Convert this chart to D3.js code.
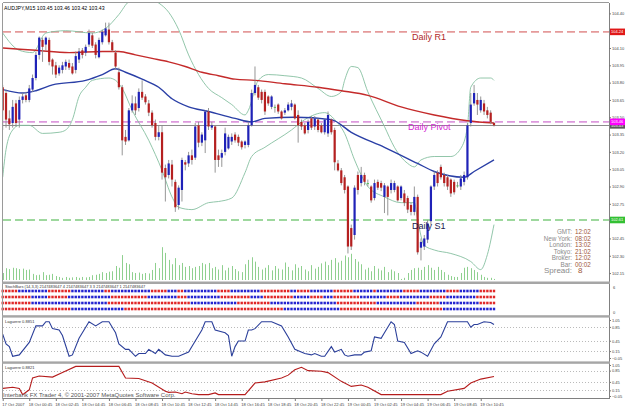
<!DOCTYPE html>
<html><head><meta charset="utf-8">
<script src="https://cdn.jsdelivr.net/npm/d3@7"></script>
<style>
body{margin:0;background:#fff}
svg{display:block}
text{font-family:"Liberation Sans",Arial,sans-serif}
</style>
</head><body>
<svg id="c" width="625" height="412"></svg>
<script>
// ---------- DATA ----------
const symbolHeader = "AUDJPY,M15  103.45 103.46 103.42 103.43";
const opens = [103.76,103.71,103.49,103.45,103.62,103.48,103.65,103.69,103.65,103.74,
103.84,104.04,104.17,104.13,104.17,104.00,103.95,103.88,103.91,103.94,
103.97,103.94,103.91,104.00,104.08,104.06,104.13,104.21,104.13,104.02,
104.15,104.21,104.26,104.15,104.06,103.89,103.76,103.33,103.30,103.56,
103.62,103.58,103.72,103.68,103.62,103.54,103.45,103.33,103.37,103.06,
103.00,103.09,102.94,102.74,102.87,103.11,103.10,103.17,103.15,103.43,
103.28,103.30,103.55,103.41,103.42,103.17,103.15,103.20,103.23,103.29,
103.35,103.33,103.29,103.26,103.26,103.43,103.71,103.76,103.72,103.72,
103.68,103.59,103.59,103.61,103.55,103.54,103.56,103.59,103.61,103.52,
103.46,103.43,103.39,103.49,103.42,103.48,103.43,103.37,103.36,103.48,
103.39,103.10,103.04,102.98,102.90,102.54,102.48,103.00,102.93,103.00,
102.93,102.90,102.80,102.94,102.93,102.81,102.90,102.87,102.87,102.90,
102.80,102.84,102.80,102.74,102.68,102.81,102.37,102.38,102.44,102.60,
102.90,103.02,103.07,103.00,102.98,102.96,102.94,102.91,102.90,102.94,
102.98,103.45,103.62,103.65,103.56,103.62,103.56,103.54,103.45];
const highs = [103.78,103.74,103.56,103.65,103.65,103.68,103.71,103.72,103.78,103.87,
104.07,104.20,104.19,104.20,104.19,104.01,103.98,103.95,103.98,104.00,
104.00,103.97,104.07,104.10,104.10,104.13,104.26,104.23,104.15,104.19,
104.26,104.32,104.32,104.17,104.08,103.93,103.78,103.39,103.58,103.69,
103.68,103.75,103.82,103.70,103.65,103.56,103.48,103.43,103.43,103.09,
103.13,103.13,102.96,102.91,103.15,103.13,103.20,103.22,103.45,103.46,
103.37,103.56,103.58,103.46,103.43,103.22,103.22,103.41,103.35,103.36,
103.37,103.35,103.30,103.30,103.46,103.74,103.94,103.78,103.74,103.74,
103.69,103.69,103.61,103.62,103.56,103.58,103.63,103.65,103.62,103.56,
103.48,103.45,103.48,103.51,103.51,103.49,103.45,103.49,103.55,103.49,
103.41,103.13,103.06,103.00,102.91,102.57,102.91,103.03,103.07,103.02,
102.96,102.91,102.96,102.96,102.95,102.93,102.91,102.96,102.95,102.91,
102.91,102.87,102.82,102.76,102.90,102.83,102.45,102.48,102.61,102.91,
103.03,103.04,103.09,103.02,103.00,102.97,102.96,102.94,103.00,103.03,
103.45,103.71,103.78,103.71,103.68,103.65,103.59,103.56,103.46];
const lows = [103.39,103.41,103.39,103.41,103.42,103.41,103.62,103.63,103.63,103.72,
103.82,104.00,103.98,104.08,103.95,103.87,103.84,103.86,103.88,103.91,
103.91,103.87,103.88,103.97,104.01,104.03,104.11,104.10,104.01,104.01,
104.13,104.20,104.13,104.07,103.91,103.74,103.17,103.26,103.29,103.54,
103.52,103.55,103.65,103.61,103.51,103.41,103.30,103.30,102.96,102.77,
102.97,102.90,102.68,102.70,102.77,103.04,103.07,103.09,103.13,103.24,
103.25,103.19,103.39,103.39,103.02,103.07,103.07,103.17,103.22,103.26,
103.28,103.25,103.22,103.23,103.24,103.42,103.69,103.65,103.62,103.52,
103.60,103.57,103.54,103.53,103.48,103.52,103.55,103.56,103.48,103.28,
103.39,103.35,103.36,103.39,103.39,103.37,103.36,103.35,103.33,103.35,
103.04,103.03,102.91,102.84,102.32,102.35,102.44,102.83,102.90,102.91,
102.90,102.76,102.78,102.87,102.86,102.67,102.65,102.84,102.85,102.77,
102.78,102.73,102.67,102.65,102.65,102.31,102.26,102.35,102.41,102.57,
102.87,102.90,102.96,102.90,102.87,102.81,102.83,102.89,102.87,102.91,
102.96,103.42,103.60,103.52,103.54,103.52,103.49,103.44,103.42];
const closes = [103.56,103.48,103.44,103.59,103.45,103.65,103.68,103.65,103.75,103.84,
104.04,104.19,104.11,104.19,103.98,103.94,103.87,103.93,103.95,103.98,
103.93,103.88,104.03,104.07,104.04,104.11,104.23,104.12,104.04,104.17,
104.24,104.27,104.15,104.08,103.94,103.76,103.30,103.29,103.56,103.62,
103.56,103.72,103.67,103.63,103.54,103.43,103.33,103.37,103.02,102.98,
103.10,102.96,102.72,102.89,103.13,103.09,103.17,103.13,103.42,103.28,
103.35,103.55,103.42,103.43,103.13,103.13,103.19,103.36,103.33,103.33,
103.30,103.28,103.24,103.29,103.43,103.71,103.78,103.67,103.65,103.55,
103.62,103.68,103.59,103.55,103.49,103.56,103.61,103.62,103.49,103.43,
103.42,103.36,103.46,103.41,103.49,103.39,103.37,103.48,103.52,103.37,
103.11,103.04,102.93,102.87,102.38,102.38,102.89,102.87,103.00,102.94,
102.93,102.78,102.93,102.89,102.89,102.91,102.81,102.93,102.93,102.78,
102.90,102.76,102.70,102.68,102.81,102.33,102.42,102.45,102.58,102.90,
103.00,102.93,102.98,102.93,102.90,102.84,102.85,102.91,102.97,103.00,
103.43,103.61,103.71,103.61,103.65,103.55,103.52,103.46,103.43];
const volumes = [80,135,125,140,135,125,130,115,120,70,
55,60,90,55,60,70,45,35,25,35,
25,30,35,25,35,30,35,55,60,70,
90,80,95,100,160,140,285,195,180,90,
80,85,70,80,75,115,195,135,375,310,
230,180,250,170,195,150,160,135,150,160,
195,180,195,135,150,120,170,110,140,160,
125,100,90,180,230,260,210,150,120,140,
170,110,160,130,120,200,150,110,180,140,
160,120,100,170,130,150,190,210,170,230,
250,200,220,280,260,300,240,210,180,120,
140,100,160,130,110,150,90,120,100,80,
12,25,80,115,135,140,115,150,170,140,
115,150,115,90,60,45,35,35,80,140,
150,135,115,90,60,35,25,25,12];
// moving averages and bands, read at sampled bars: [bar, price]
const maSlow = [[0,104.10],[10,104.08],[20,104.06],[30,104.07],[35,104.07],[40,104.04],[45,104.01],[50,103.98],[55,103.94],[60,103.89],[65,103.86],[70,103.83],[76,103.82],[85,103.79],[95,103.76],[102,103.73],[110,103.69],[120,103.59],[130,103.52],[140,103.47],[148,103.45]];
const maFast = [[0,103.74],[6,103.71],[10,103.73],[15,103.78],[25,103.82],[30,103.87],[34,103.92],[37,103.89],[42,103.83],[47,103.76],[51,103.66],[56,103.59],[62,103.55],[70,103.49],[75,103.46],[79,103.49],[88,103.50],[99,103.48],[105,103.37],[115,103.24],[125,103.10],[130,103.03],[139,102.98],[142,103.03],[148,103.13]];
const bandUpper = [[0,104.23],[5,104.08],[9,104.06],[13,104.23],[19,104.25],[27,104.23],[31,104.27],[35,104.39],[38,104.50],[43,104.54],[47,104.49],[50,104.41],[53,104.26],[56,104.04],[59,103.87],[62,103.75],[66,103.67],[69,103.61],[73,103.52],[74,103.56],[77,103.82],[80,103.87],[85,103.86],[90,103.84],[95,103.75],[99,103.68],[102,103.72],[103,103.82],[105,103.94],[107,103.93],[110,103.72],[115,103.42],[118,103.24],[122,103.10],[124,103.07],[126,103.13],[130,103.16],[135,103.16],[138,103.23],[140,103.42],[141,103.76],[144,103.84],[147,103.84],[148,103.82]];
const bandLower = [[0,102.98],[1,103.22],[3,103.39],[5,103.43],[8,103.43],[12,103.36],[17,103.37],[19,103.39],[21,103.48],[23,103.68],[25,103.76],[27,103.82],[32,103.84],[34,103.82],[36,103.75],[39,103.56],[44,103.30],[48,103.04],[51,102.81],[53,102.72],[57,102.70],[62,102.76],[65,102.77],[69,102.80],[73,103.02],[75,103.16],[79,103.24],[87,103.39],[91,103.48],[97,103.54],[100,103.48],[103,103.36],[106,103.13],[110,102.90],[115,102.81],[120,102.76],[124,102.76],[125,102.61],[127,102.39],[130,102.35],[135,102.32],[141,102.25],[144,102.18],[146,102.31],[148,102.57]];
const levelNames = ["Daily R1","Daily Pivot","Daily S1"];
const levelPrices = [104.24,103.46,102.61];
const bidPrice = 103.43;
const priceTicks = [104.40,104.25,104.10,103.95,103.80,103.65,103.50,103.35,103.20,103.05,102.90,102.75,102.60,102.45,102.30,102.15];
const timeLabels = ["17 Oct 2007","18 Oct 00:45","18 Oct 02:45","18 Oct 04:45","18 Oct 06:45","18 Oct 08:45","18 Oct 10:45","18 Oct 12:45","18 Oct 14:45","18 Oct 16:45","18 Oct 18:45","18 Oct 20:45","18 Oct 22:45","19 Oct 00:45","19 Oct 02:45","19 Oct 04:45","19 Oct 06:45","19 Oct 08:45","19 Oct 10:45"];
const infoLabels = ["GMT:","New York:","London:","Tokyo:","Broker:","Bar:","Spread:"];
const infoValues = ["12:02","08:02","13:02","21:02","12:02","00:02","8"];
const stochTitle = "StochBars (14,3,3) 2147483647 4 2147483647 3 3 2147483647 1 2147483647";
const stochRows = [
 "r5 b9 r7 b10 r2 b12 r5 b3 r2 b10 r4 b9 r9 b2 r4 b7 r6 b6 r1 b8 r5 b8 r4 b6 r5",
 "r9 b5 r6 b13 r11 b9 r3 b10 r9 b4 r9 b5 r4 b3 r8 b8 r4 b9 r5 b9 r6",
 "r9 b23 r25 b14 r10 b20 r12 b12 r7 b12 r5",
 "r21 b16 r48 b17 r31 b16"];
const lag1Title = "Laguerre 0.8851";
const lag2Title = "Laguerre 0.8821";
const lagTicks = [1.05,0.85,0.45,0.15,-0.05];
const lagLevels = [0.85,0.45,0.15];
const laguerreFast = [[0,0.64],[1,0.36],[2,0.28],[3,0.0],[5,0.04],[8,0.4],[10,0.88],[12,0.88],[13,1.0],[14,1.0],[15,0.8],[17,0.76],[18,0.6],[20,0.0],[21,0.04],[23,0.52],[24,0.68],[26,1.0],[28,0.88],[30,1.0],[32,1.0],[34,0.68],[35,0.36],[37,0.2],[38,0.2],[40,0.0],[41,0.08],[43,0.08],[44,0.2],[46,0.08],[47,0.2],[49,0.04],[51,0.0],[53,0.0],[56,0.12],[58,0.44],[60,0.76],[61,1.0],[63,1.0],[64,0.76],[67,0.68],[68,0.6],[69,0.0],[70,0.28],[71,0.44],[73,0.44],[74,0.76],[75,0.76],[76,0.8],[78,1.0],[81,1.0],[84,0.88],[86,0.56],[88,0.2],[91,0.08],[93,0.04],[94,0.08],[96,0.0],[97,0.0],[99,0.28],[100,0.12],[102,0.2],[103,0.04],[104,0.0],[106,0.04],[108,0.04],[109,0.12],[111,0.16],[112,0.56],[114,0.52],[115,0.68],[117,1.0],[118,0.92],[119,0.44],[121,0.4],[123,0.08],[125,0.16],[126,0.12],[128,0.0],[130,0.36],[132,0.56],[134,1.0],[140,1.0],[141,0.84],[142,0.92],[143,0.92],[145,1.0],[147,0.98],[148,0.92]];
const laguerreSlow = [[0,0.22],[3,0.26],[5,0.22],[6,0.0],[8,0.17],[9,0.59],[11,0.66],[15,0.62],[18,0.78],[22,1.0],[35,1.0],[37,0.59],[41,0.57],[45,0.41],[49,0.12],[50,0.08],[52,0.09],[54,0.03],[55,0.09],[57,0.03],[59,0.0],[62,0.0],[64,0.06],[65,0.0],[73,0.0],[76,0.41],[79,0.45],[84,0.59],[86,0.69],[88,0.88],[90,0.97],[92,0.85],[96,0.83],[98,0.78],[102,0.47],[105,0.29],[108,0.34],[110,0.26],[114,0.0],[132,0.0],[134,0.12],[139,0.22],[141,0.41],[144,0.55],[148,0.64]];
const copyright = "Interbank FX Trader 4, \u00a9 2001-2007 MetaQuotes Software Corp.";

// ---------- LAYOUT ----------
const L = 3, R = 609;
const mainTop = 3, mainBot = 281;
const l1Top = 318, l1Bot = 361;
const l2Top = 364, l2Bot = 398;
const FONT = '"Liberation Sans",Arial,sans-serif';
const AX = 4.0;

const svg = d3.select("#c");
const nBars = closes.length;
const x = d3.scaleLinear().domain([0, nBars - 1]).range([2.7, 494]);
const y = d3.scaleLinear().domain([102.09, 104.49]).range([280, 3]);
const yVol = d3.scaleLinear().domain([0, 400]).range([280, 245]);
const yL1 = d3.scaleLinear().domain([-0.05, 1.05]).range([358, 320]);
const yL2 = d3.scaleLinear().domain([-0.05, 1.05]).range([396, 365]);
const rowY = d3.scalePoint().domain([0,1,2,3]).range([291, 309]);

svg.append("rect").attr("width",625).attr("height",412).attr("fill","#fff");

const defs = svg.append("defs");
defs.append("clipPath").attr("id","cm").append("rect").attr("x",L).attr("y",mainTop).attr("width",R-L).attr("height",mainBot-mainTop);
defs.append("clipPath").attr("id","c1").append("rect").attr("x",L).attr("y",l1Top).attr("width",R-L).attr("height",l1Bot-l1Top);
defs.append("clipPath").attr("id","c2").append("rect").attr("x",L).attr("y",l2Top).attr("width",R-L).attr("height",l2Bot-l2Top);

const main = svg.append("g").attr("clip-path","url(#cm)");

// volumes
main.append("g").selectAll("line").data(volumes).join("line")
  .attr("x1",(d,i)=>Math.round(x(i))+0.5).attr("x2",(d,i)=>Math.round(x(i))+0.5)
  .attr("y1",yVol(0)).attr("y2",d=>yVol(d))
  .attr("stroke","#8fd08f").attr("stroke-width",1);

// level lines
const levelColors = ["#e59a9a","#dd99dd","#7fcc7f"];
main.append("g").selectAll("line").data(levelPrices).join("line")
  .attr("x1",L).attr("x2",R).attr("y1",d=>y(d)).attr("y2",d=>y(d))
  .attr("stroke",(d,i)=>levelColors[i]).attr("stroke-width",1.6).attr("stroke-dasharray","8,4");
// bid line
main.append("line").attr("x1",L).attr("x2",R).attr("y1",Math.round(y(bidPrice))+0.5).attr("y2",Math.round(y(bidPrice))+0.5)
  .attr("stroke","#8c8c8c").attr("stroke-width",1);

// bands & MAs
const ln = d3.line().x(d=>x(d[0])).y(d=>y(d[1])).curve(d3.curveMonotoneX);
main.append("path").attr("d",ln(bandUpper)).attr("fill","none").attr("stroke","#86bfa0").attr("stroke-width",0.9);
main.append("path").attr("d",ln(bandLower)).attr("fill","none").attr("stroke","#86bfa0").attr("stroke-width",0.9);
main.append("path").attr("d",ln(maSlow)).attr("fill","none").attr("stroke","#c42a2a").attr("stroke-width",1.4);
main.append("path").attr("d",ln(maFast)).attr("fill","none").attr("stroke","#2a3fa6").attr("stroke-width",1.4);

// candles
const idx = d3.range(nBars);
const cg = main.append("g");
cg.selectAll("line").data(idx).join("line")
  .attr("x1",i=>x(i)).attr("x2",i=>x(i))
  .attr("y1",i=>y(highs[i])).attr("y2",i=>y(lows[i]))
  .attr("stroke","#8a8a8a").attr("stroke-width",0.9);
cg.selectAll("rect").data(idx).join("rect")
  .attr("x",i=>x(i)-1.1).attr("width",2.2)
  .attr("y",i=>y(Math.max(opens[i],closes[i])))
  .attr("height",i=>Math.max(1,Math.abs(y(opens[i])-y(closes[i]))))
  .attr("fill",i=>closes[i]>opens[i]?"#1f22b8":(closes[i]<opens[i]?"#b52020":"#58c058"));

// level labels
const labelColors = ["#b02828","#d42ad4","#1a1a50"];
const labelY = [40, 130, 229];
const labelX = [412, 408, 412];
svg.selectAll("text.lvl").data(levelNames).join("text").attr("class","lvl")
  .attr("x",(d,i)=>labelX[i]).attr("y",(d,i)=>labelY[i])
  .attr("font-size",9).attr("fill",(d,i)=>labelColors[i]).text(d=>d);

// header
svg.append("text").attr("x",4).attr("y",10).attr("font-size",5.2).attr("fill","#000").text(symbolHeader);

// info block
const infoY = [234,240.5,247,253.5,260,266.5,273];
svg.selectAll("text.il").data(infoLabels).join("text").attr("class","il")
  .attr("x",572).attr("y",(d,i)=>infoY[i]).attr("text-anchor","end")
  .attr("font-size",(d,i)=>i===6?8:6.3).attr("fill","#8a8a8a").text(d=>d);
svg.selectAll("text.iv").data(infoValues).join("text").attr("class","iv")
  .attr("x",(d,i)=>i===6?578:575).attr("y",(d,i)=>infoY[i])
  .attr("font-size",(d,i)=>i===6?8:6.3).attr("fill","#a0583a").text(d=>d);

// ---------- STOCH BARS ----------
function expandRuns(s){ const out=[]; s.split(" ").forEach(t=>{const c=t[0],n=+t.slice(1); for(let k=0;k<n;k++) out.push(c);}); return out; }
const stG = svg.append("g");
stochRows.forEach((s,r)=>{
  const cells = expandRuns(s);
  stG.append("g").selectAll("rect").data(cells).join("rect")
    .attr("x",(d,i)=>x(i)-1.2).attr("y",rowY(r)-1.3).attr("width",2.4).attr("height",2.6)
    .attr("fill",d=>d==="r"?"#e02828":"#2424d0");
});
svg.append("text").attr("x",5).attr("y",288.3).attr("font-size",4.0).attr("fill","#333").text(stochTitle);

// ---------- LAGUERRE ----------
function lagPanel(yS, data, color, clip, title, top){
  const g = svg.append("g");
  g.selectAll("line").data(lagLevels).join("line")
    .attr("x1",L).attr("x2",R).attr("y1",d=>Math.round(yS(d))+0.5).attr("y2",d=>Math.round(yS(d))+0.5)
    .attr("stroke","#a8a8a8").attr("stroke-width",0.8).attr("stroke-dasharray","1,2");
  const l = d3.line().x(d=>x(d[0])).y(d=>yS(d[1]));
  g.append("path").attr("clip-path",clip).attr("d",l(data)).attr("fill","none").attr("stroke",color).attr("stroke-width",1.1);
  g.append("text").attr("x",5).attr("y",top+5).attr("font-size",4.0).attr("fill","#333").text(title);
  const ax = d3.axisRight(yS).tickValues(lagTicks).tickSize(2).tickFormat(d3.format(".2f"));
  const ag = svg.append("g").attr("transform",`translate(${R},0)`).call(ax);
  ag.select(".domain").remove();
  ag.selectAll("text").attr("font-size",AX).attr("fill","#444").attr("font-family",FONT).attr("x",3);
  ag.selectAll("line").attr("stroke","#777");
}
lagPanel(yL1, laguerreFast, "#2b3f9a", "url(#c1)", lag1Title, l1Top);
lagPanel(yL2, laguerreSlow, "#b51c1c", "url(#c2)", lag2Title, l2Top);

// ---------- FRAMES ----------
const fr = svg.append("g");
fr.append("line").attr("x1",L-0.5).attr("x2",L-0.5).attr("y1",3).attr("y2",399).attr("stroke","#9a9a9a");
fr.append("line").attr("x1",R+0.5).attr("x2",R+0.5).attr("y1",3).attr("y2",399).attr("stroke","#808080");
fr.append("line").attr("x1",L).attr("x2",R).attr("y1",2.5).attr("y2",2.5).attr("stroke","#9a9a9a");
fr.append("line").attr("x1",L).attr("x2",R).attr("y1",398.5).attr("y2",398.5).attr("stroke","#808080");
[[281.5,2.5],[315.2,2.4],[361.4,2.4]].forEach(([yy,h])=>{
  fr.append("rect").attr("x",L-1).attr("y",yy).attr("width",R-L+2).attr("height",h).attr("fill","#a6a6a6");
});

// ---------- PRICE AXIS ----------
const pa = svg.append("g").attr("transform",`translate(${R},0)`)
  .call(d3.axisRight(y).tickValues(priceTicks).tickSize(2).tickFormat(d3.format(".2f")));
pa.select(".domain").remove();
pa.selectAll("text").attr("font-size",AX).attr("fill","#444").attr("font-family",FONT).attr("x",3);
pa.selectAll("line").attr("stroke","#777");

// price tags
const tagData = [[levelPrices[0],"#e01818"],[bidPrice,"#5a5a5a"],[levelPrices[1],"#ff00ff"],[levelPrices[2],"#33c033"]];
const tg = svg.append("g");
tagData.forEach(([p,c])=>{
  tg.append("rect").attr("x",R+1).attr("y",y(p)-3.3).attr("width",15).attr("height",6.6).attr("fill",c);
  tg.append("text").attr("x",R+2).attr("y",y(p)+1.5).attr("font-size",AX).attr("fill","#fff").text(d3.format(".2f")(p));
});

// stoch axis labels
svg.append("text").attr("x",R+4).attr("y",289).attr("font-size",AX).attr("fill","#444").text("6");
svg.append("text").attr("x",R+4).attr("y",314).attr("font-size",AX).attr("fill","#444").text("0");

// ---------- TIME AXIS ----------
const tIdx = timeLabels.map((d,k)=>k*8);
const ta = svg.append("g").attr("transform",`translate(0,${399})`)
  .call(d3.axisBottom(x).tickValues(tIdx).tickSize(2).tickFormat((d,k)=>timeLabels[k]));
ta.select(".domain").remove();
ta.selectAll("line").attr("stroke","#777");
ta.selectAll("text").attr("font-size",4.1).attr("fill","#444").attr("font-family",FONT)
  .attr("text-anchor","start").attr("dx",-1).attr("y",4.5);

svg.append("text").attr("x",3).attr("y",396.5).attr("font-size",6.0).attr("fill","#555").text(copyright);
</script>
</body></html>
